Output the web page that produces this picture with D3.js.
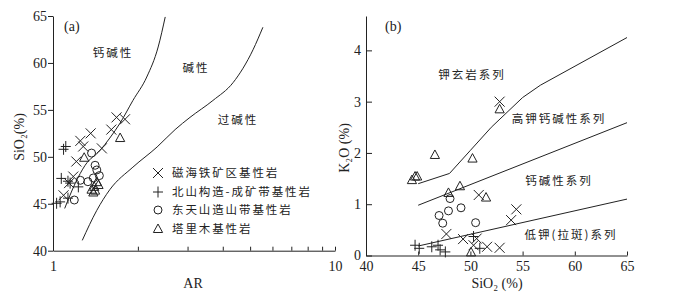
<!DOCTYPE html>
<html>
<head>
<meta charset="utf-8">
<script src="https://cdn.jsdelivr.net/npm/d3@7"></script>
<style>
  body { margin: 0; background: #fff; }
  text { font-family: "Liberation Serif", "Noto Sans CJK SC", serif; fill: #222; }
  .cn { font-family: "Noto Sans CJK SC", "Liberation Serif", serif; }
</style>
</head>
<body>
<div id="chart"></div>
<script>
// ---- Panel (a) data: AR vs SiO2 ----
const aYTicks = [40, 45, 50, 55, 60, 65];
const aXTicks = [1, 2, 3, 4, 5, 6, 7, 8, 9, 10];

// calc-alkaline / alkaline boundary
const bound1AR = [1.10, 1.20, 1.30, 1.47, 1.59, 1.73, 1.92, 2.15, 2.36, 2.50];
const bound1Si = [44.5, 47.2, 49.1, 50.7, 52.0, 53.6, 56.0, 58.5, 61.7, 64.9];
// alkaline / peralkaline boundary
const bound2AR = [1.27, 1.43, 1.59, 1.92, 2.34, 2.71, 3.06, 3.69, 4.35, 5.12, 5.55];
const bound2Si = [41.1, 44.3, 46.5, 48.9, 51.05, 52.9, 54.2, 56.0, 57.9, 61.4, 63.8];

const aCiHaiAR = [1.68, 1.80, 1.61, 1.36, 1.25, 1.28, 1.49, 1.21, 1.18, 1.14, 1.09];
const aCiHaiSi = [54.2, 54.0, 52.9, 52.5, 51.7, 51.1, 50.9, 49.5, 47.9, 47.2, 45.9];
const aBeishanAR = [1.11, 1.09, 1.07, 1.15, 1.23, 1.13, 1.06, 1.03, 1.13];
const aBeishanSi = [51.1, 50.8, 47.7, 47.2, 46.8, 47.4, 45.2, 45.05, 45.6];
const aTianshanAR = [1.37, 1.41, 1.43, 1.46, 1.25, 1.33, 1.19, 1.39];
const aTianshanSi = [50.4, 49.1, 48.6, 48.0, 47.5, 47.35, 45.4, 47.75];
const aTarimAR = [1.73, 1.29, 1.43, 1.37, 1.39, 1.41, 1.45, 1.40];
const aTarimSi = [52.0, 49.9, 47.3, 46.5, 46.2, 46.4, 47.0, 46.8];

// ---- Panel (b) data: SiO2 vs K2O ----
const bXTicks = [40, 45, 50, 55, 60, 65];
const bYTicks = [0, 1, 2, 3, 4];

const shoSi = [45, 48, 50, 52, 55, 56.7, 65];
const shoK = [1.4, 1.6, 2.05, 2.5, 3.08, 3.32, 4.25];
const hkSi = [45, 65];
const hkK = [0.98, 2.59];
const lkSi = [45, 65];
const lkK = [0.185, 1.10];

const bCiHaiSi = [52.8, 47.7, 49.3, 50.8, 53.9, 54.4, 50.6, 51.6, 52.8, 50.3];
const bCiHaiK = [3.0, 0.42, 0.32, 1.18, 0.69, 0.9, 0.33, 0.17, 0.15, 0.2];
const bBeishanSi = [44.7, 45.1, 46.3, 46.9, 47.1, 47.6, 50.3, 50.9];
const bBeishanK = [0.2, 0.14, 0.17, 0.2, 0.11, 0.07, 0.37, 0.14];
const bTianshanSi = [47.0, 47.35, 47.9, 48.05, 49.1, 50.5];
const bTianshanK = [0.78, 0.63, 0.87, 1.11, 0.93, 0.64];
const bTarimSi = [52.8, 46.6, 50.2, 44.4, 44.9, 44.7, 49.0, 47.9, 51.5, 50.06];
const bTarimK = [2.85, 1.96, 1.89, 1.47, 1.54, 1.54, 1.35, 1.22, 1.13, 0.06];

const legendNames = ["磁海铁矿区基性岩", "北山构造-成矿带基性岩", "东天山造山带基性岩", "塔里木基性岩"];
const legendShapes = ["x", "plus", "circle", "tri"];

// ---- SVG ----
const svg = d3.select('#chart')
  .append('svg')
  .attr('width', 674)
  .attr('height', 301);

// marker shapes
const shapePath = (type) => {
  if (type === 'x') return 'M-5,-5L5,5M-5,5L5,-5';
  if (type === 'plus') return 'M-5,0L5,0M0,-5.5L0,5.5';
  if (type === 'tri') return 'M0,-5L4.6,3.5L-4.6,3.5Z';
  return null;
};
const drawMarks = (g, xs, ys, xScale, yScale, type) => {
  const pts = xs.map((v, i) => [xScale(v), yScale(ys[i])]);
  if (type === 'circle') {
    g.selectAll(null).data(pts).enter().append('circle')
      .attr('cx', d => d[0]).attr('cy', d => d[1]).attr('r', 4)
      .attr('fill', 'none').attr('stroke', '#222').attr('stroke-width', 1);
  } else {
    g.selectAll(null).data(pts).enter().append('path')
      .attr('transform', d => `translate(${d[0]},${d[1]})`)
      .attr('d', shapePath(type))
      .attr('fill', 'none').attr('stroke', '#222').attr('stroke-width', 1);
  }
};
const drawCurve = (g, xs, ys, xScale, yScale, curve) => {
  const line = d3.line().curve(curve)
    .x(d => xScale(d[0])).y(d => yScale(d[1]));
  g.append('path')
    .attr('d', line(xs.map((v, i) => [v, ys[i]])))
    .attr('fill', 'none').attr('stroke', '#222').attr('stroke-width', 1);
};

// ================= Panel (a) =================
const ax = d3.scaleLog().domain([1, 10]).range([53, 335]);
const ay = d3.scaleLinear().domain([40, 65]).range([250.7, 16]);
const gA = svg.append('g').attr('class', 'panel-a');

gA.append('g')
  .attr('transform', 'translate(0,250.7)')
  .call(d3.axisBottom(ax).tickValues(aXTicks).tickSizeInner(-4).tickSizeOuter(0).tickPadding(10)
    .tickFormat(d => (d === 1 || d === 10) ? d : ''));
gA.append('g')
  .attr('transform', 'translate(53,0)')
  .call(d3.axisLeft(ay).tickValues(aYTicks).tickSizeInner(5).tickSizeOuter(0).tickPadding(1));

drawCurve(gA, bound1AR, bound1Si, ax, ay, d3.curveMonotoneX);
drawCurve(gA, bound2AR, bound2Si, ax, ay, d3.curveMonotoneX);

drawMarks(gA, aCiHaiAR, aCiHaiSi, ax, ay, 'x');
drawMarks(gA, aBeishanAR, aBeishanSi, ax, ay, 'plus');
drawMarks(gA, aTianshanAR, aTianshanSi, ax, ay, 'circle');
drawMarks(gA, aTarimAR, aTarimSi, ax, ay, 'tri');

gA.append('text').attr('x', 64).attr('y', 31).attr('font-size', 14).text('(a)');
gA.append('text').attr('class', 'cn').attr('x', 113).attr('y', 57).attr('font-size', 11.5)
  .attr('text-anchor', 'middle').attr('letter-spacing', 2).text('钙碱性');
gA.append('text').attr('class', 'cn').attr('x', 196).attr('y', 72).attr('font-size', 11.5)
  .attr('text-anchor', 'middle').attr('letter-spacing', 2).text('碱性');
gA.append('text').attr('class', 'cn').attr('x', 238).attr('y', 124).attr('font-size', 11.5)
  .attr('text-anchor', 'middle').attr('letter-spacing', 2).text('过碱性');

// legend
const legendY = [173, 192, 210, 229];
const legendG = gA.append('g').attr('class', 'legend');
legendNames.forEach((name, i) => {
  if (legendShapes[i] === 'circle') {
    legendG.append('circle').attr('cx', 158).attr('cy', legendY[i]).attr('r', 4)
      .attr('fill', 'none').attr('stroke', '#222');
  } else {
    legendG.append('path').attr('transform', `translate(158,${legendY[i]})`)
      .attr('d', shapePath(legendShapes[i])).attr('fill', 'none').attr('stroke', '#222');
  }
  legendG.append('text').attr('class', 'cn').attr('x', 172).attr('y', legendY[i] + 4)
    .attr('font-size', 11.5).attr('letter-spacing', 1.9).text(name);
});

gA.append('text').attr('x', 193).attr('y', 288).attr('font-size', 14)
  .attr('text-anchor', 'middle').text('AR');
gA.append('text').attr('transform', 'translate(24,137) rotate(-90)').attr('font-size', 14)
  .attr('text-anchor', 'middle').text('SiO₂(%)');

// ================= Panel (b) =================
const bx = d3.scaleLinear().domain([40, 65]).range([366, 627]);
const by = d3.scaleLinear().domain([0, 4.67]).range([255.5, 16]);
const gB = svg.append('g').attr('class', 'panel-b');

gB.append('g')
  .attr('transform', 'translate(0,255.5)')
  .call(d3.axisBottom(bx).tickValues(bXTicks).tickSizeInner(-4).tickSizeOuter(0).tickPadding(6));
gB.append('g')
  .attr('transform', 'translate(366,0)')
  .call(d3.axisLeft(by).tickValues(bYTicks).tickFormat(d3.format('d'))
    .tickSizeInner(-6).tickSizeOuter(0).tickPadding(5));

drawCurve(gB, shoSi, shoK, bx, by, d3.curveLinear);
drawCurve(gB, hkSi, hkK, bx, by, d3.curveLinear);
drawCurve(gB, lkSi, lkK, bx, by, d3.curveLinear);

drawMarks(gB, bCiHaiSi, bCiHaiK, bx, by, 'x');
drawMarks(gB, bBeishanSi, bBeishanK, bx, by, 'plus');
drawMarks(gB, bTianshanSi, bTianshanK, bx, by, 'circle');
drawMarks(gB, bTarimSi, bTarimK, bx, by, 'tri');

gB.append('text').attr('x', 385).attr('y', 31).attr('font-size', 14).text('(b)');
const bLabels = [
  {t: '钾玄岩系列', x: 472, y: 79},
  {t: '高钾钙碱性系列', x: 559, y: 123},
  {t: '钙碱性系列', x: 559, y: 185},
  {t: '低钾(拉斑)系列', x: 571, y: 239}
];
bLabels.forEach(l => {
  gB.append('text').attr('class', 'cn').attr('x', l.x).attr('y', l.y).attr('font-size', 11.5)
    .attr('text-anchor', 'middle').attr('letter-spacing', 2).text(l.t);
});

gB.append('text').attr('x', 497).attr('y', 288).attr('font-size', 14)
  .attr('text-anchor', 'middle').text('SiO₂ (%)');
gB.append('text').attr('transform', 'translate(349,148) rotate(-90)').attr('font-size', 14)
  .attr('text-anchor', 'middle').text('K₂O (%)');

// axis styling
svg.selectAll('.domain, .tick line').attr('stroke', '#222');
svg.selectAll('.tick text').attr('font-size', 14).attr('font-family', '"Liberation Serif", serif').attr('fill', '#222');
</script>
</body>
</html>
